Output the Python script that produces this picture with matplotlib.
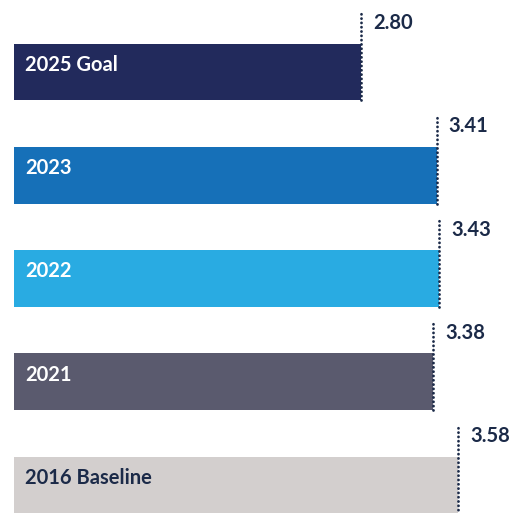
import matplotlib
matplotlib.use("Agg")
import matplotlib.pyplot as plt

plt.rcParams.update({"font.family": ["Lato", "DejaVu Sans"], "font.weight": "bold"})

labels = ["2025 Goal", "2023", "2022", "2021", "2016 Baseline"]
values = [2.80, 3.41, 3.43, 3.38, 3.58]
colors = ["#222a5c", "#1670b8", "#29abe2", "#5a5a6e", "#d3cfce"]
text_colors = ["white", "white", "white", "white", "#1b2a48"]

INK = "#1b2a48"
PX = 124.0      # pixels per unit on x
ROW = 103.3     # pixels per row

fig = plt.figure(figsize=(5.20, 5.13), dpi=100)
ax = fig.add_axes([0, 0, 1, 1])
ax.set_xlim(-14 / PX, (520 - 14) / PX)
ax.set_ylim((513 - 72) / ROW, -72 / ROW)
ax.axis("off")

ypos = list(range(len(labels)))
ax.barh(ypos, values, height=0.55, color=colors, zorder=1)

for y, v, lab, tc in zip(ypos, values, labels, text_colors):
    top = y - 0.275
    ax.plot([v, v], [y + 0.275, top - 0.30], color=INK, lw=2.0,
            linestyle=(0, (0.05, 1.5)), dash_capstyle="round", zorder=2)
    ax.text(v + 12 / PX, top - 0.20, f"{v:.2f}", color=INK, fontsize=14.5,
            ha="left", va="center")
    ax.text(11 / PX, y - 0.07, lab, color=tc, fontsize=14.5, ha="left",
            va="center")

fig.savefig("out.png", dpi=100, facecolor="white")
